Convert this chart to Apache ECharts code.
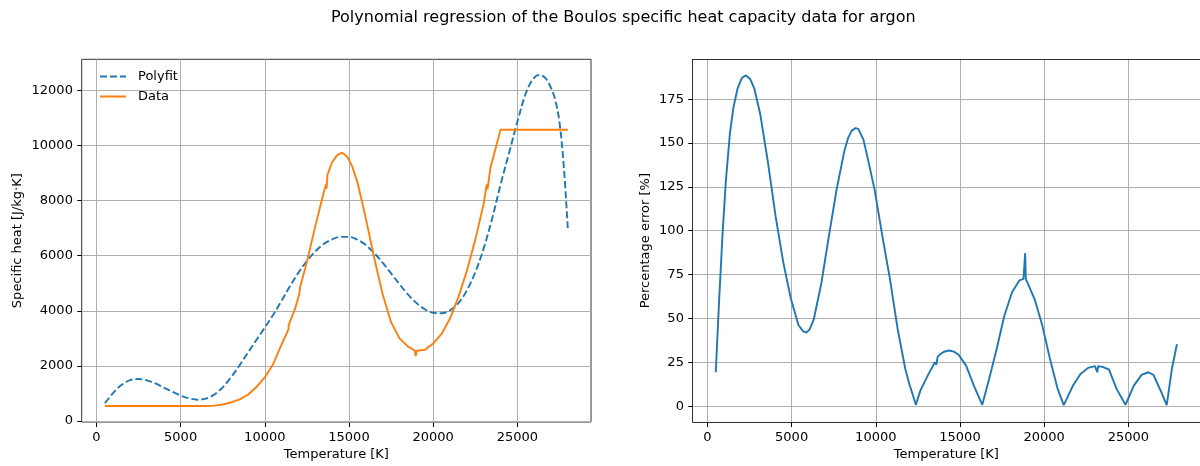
<!DOCTYPE html>
<html>
<head>
<meta charset="utf-8">
<script src="https://cdn.jsdelivr.net/npm/echarts@6/dist/echarts.min.js"></script>
<style>
html,body{margin:0;padding:0;background:#fff;overflow:hidden;}
#chart{width:1200px;height:466px;}
</style>
</head>
<body>
<div id="chart"></div>
<script>
// ---- Data ----
const titleText = 'Polynomial regression of the Boulos specific heat capacity data for argon';
const seriesNames = ['Polyfit', 'Data'];
const xTickLabels = [0, 5000, 10000, 15000, 20000, 25000];
const leftYTicks = [0, 2000, 4000, 6000, 8000, 10000, 12000];
const rightYTicks = [0, 25, 50, 75, 100, 125, 150, 175];

// Polyfit curve (temperature K, specific heat J/kg·K)
const polyT = [500,1000,1500,2000,2500,3000,3500,4000,4500,5000,5500,6000,6500,7000,7500,8000,8500,9000,9500,10000,
  10500,11000,11500,12000,12500,13000,13500,14000,14500,15000,15500,16000,16500,17000,17500,18000,18500,19000,19500,20000,
  20500,21000,21500,22000,22500,23000,23500,24000,24500,25000,25500,25900,26300,26700,27000,27250,27500,27750,28000];
const polyV = [620,1000,1290,1460,1505,1450,1340,1190,1040,900,800,750,790,940,1200,1570,2000,2460,2920,3370,
  3840,4350,4880,5370,5790,6140,6410,6580,6670,6670,6570,6370,6080,5730,5340,4950,4580,4270,4040,3910,
  3890,4000,4260,4720,5380,6250,7330,8560,9700,10850,11880,12380,12556,12420,12080,11650,10850,9300,6950];

// Boulos data (temperature K, specific heat J/kg·K)
const dataT = [500,6000,6500,7000,7500,8000,8500,9000,9500,10000,10500,11000,11400,11430,11800,12060,12090,12500,13000,13500,
  13640,13670,13720,14000,14300,14600,14900,15200,15500,15800,16000,16500,17000,17500,18000,18500,18900,18960,19020,19500,
  20000,20500,21000,21500,22000,22500,23000,23180,23230,23400,23700,24000,28000];
const dataV = [520,520,522,535,575,650,760,930,1210,1560,2050,2760,3300,3480,4060,4620,4830,5760,7060,8280,
  8580,8420,8920,9380,9640,9730,9580,9220,8660,7880,7340,5900,4580,3570,2980,2690,2540,2340,2530,2560,
  2790,3140,3700,4480,5430,6560,7870,8580,8400,9170,9860,10560,10560];

// Percentage error (temperature K, %)
const errT = [500,700,900,1100,1340,1550,1800,2050,2300,2550,2800,3160,3610,4070,4520,4980,5430,5700,5900,6100,
  6340,6800,7250,7700,8160,8400,8610,8840,9000,9070,9300,9520,9977,10430,10890,11340,11800,12020,12250,12430,
  12700,13160,13570,13640,13660,13720,13840,14100,14400,14700,14980,15430,15890,16390,16800,17250,17700,18160,18610,18850,
  18920,18950,18990,19070,19520,19977,20430,20890,21250,21800,22250,22700,23110,23200,23250,23300,23600,23950,24400,24930,
  25430,25890,26300,26600,26800,27100,27390,27700,28000];
const errV = [19,60,97,128,155,170,181,187,188.5,186.5,181,166,139,108,82,61,46,42.5,41.7,43.5,
  49,70,97,123,145,153,157,158.4,158,157.5,152,143,123,97,72,44,21,13,6,0.4,
  8.5,17.5,24.7,25,23.3,27.5,29,30.7,31.4,30.8,29,22.8,11.4,0.4,15.2,32.3,51,64.5,71.5,72.3,
  72.3,87,72,70.6,60.5,45.5,26.6,9.5,0.2,11.4,18,21.5,22.5,22.5,19,22.5,22,20.5,9.5,0.4,
  11.4,17.5,19,17.5,13.3,7,0.2,21,35];

const pairs = (xs, ys) => xs.map((x, i) => [x, ys[i]]);

// ---- Layout ----
const FONT = 'DejaVu Sans';
const FS = 13;
const gridCol = '#b0b0b0';
const frameCol = '#333333';
const blue = '#1f77b4', orange = '#ff7f0e';
const W = 1200;
const boxTop = 59.3, boxH = 363.4, boxW = 509.3;
const leftBoxL = 81.7, rightBoxL = 692.7;
const xMin = -875, xMax = 29375;
const pxPerX = boxW / (xMax - xMin);
const lY = [-60, 13123], rY = [-9.4, 197.7];

function box(boxL) {
  return { left: boxL, right: W - boxL - boxW, top: boxTop, height: boxH };
}
function yTickGrid(boxL, yr, t0, t1) {
  const ppu = boxH / (yr[1] - yr[0]);
  const bottomPx = boxTop + boxH - (t0 - yr[0]) * ppu;
  const topPx = boxTop + boxH - (t1 - yr[0]) * ppu;
  return { left: boxL, right: W - boxL - boxW, top: topPx, height: bottomPx - topPx };
}
function xTickGrid(boxL, t0, t1) {
  const l = boxL + (t0 - xMin) * pxPerX;
  return { left: l, width: (t1 - t0) * pxPerX, top: boxTop, height: boxH };
}
const labelStyle = { fontFamily: FONT, fontSize: FS, color: '#000' };
const hiddenAxis = (gi) => ({ type: 'value', gridIndex: gi, show: false, min: 0, max: 1 });
const plain = v => String(v);
const frameLine = { show: true, onZero: false, lineStyle: { color: frameCol, width: 1 } };

const grids = [
  Object.assign(box(leftBoxL), { show: true, borderColor: frameCol, borderWidth: 1, backgroundColor: 'transparent' }),
  xTickGrid(leftBoxL, xTickLabels[0], xTickLabels[xTickLabels.length - 1]),
  yTickGrid(leftBoxL, lY, leftYTicks[0], leftYTicks[leftYTicks.length - 1]),
  box(rightBoxL),
  xTickGrid(rightBoxL, xTickLabels[0], xTickLabels[xTickLabels.length - 1]),
  yTickGrid(rightBoxL, rY, rightYTicks[0], rightYTicks[rightYTicks.length - 1])
];

function mainX(gi, withLine) {
  return { type: 'value', gridIndex: gi, min: xMin, max: xMax, position: 'bottom',
    axisLine: withLine ? frameLine : { show: false }, axisTick: { show: false }, axisLabel: { show: false }, splitLine: { show: false },
    name: 'Temperature [K]', nameLocation: 'middle', nameGap: 26, nameTextStyle: labelStyle };
}
function topLineX(gi) {
  return { type: 'value', gridIndex: gi, min: xMin, max: xMax, position: 'top',
    axisLine: frameLine, axisTick: { show: false }, axisLabel: { show: false }, splitLine: { show: false } };
}
function mainY(gi, yr, name, gap, withLine) {
  return { type: 'value', gridIndex: gi, min: yr[0], max: yr[1], position: 'left',
    axisLine: withLine ? frameLine : { show: false }, axisTick: { show: false }, axisLabel: { show: false }, splitLine: { show: false },
    name: name, nameLocation: 'middle', nameGap: gap, nameTextStyle: labelStyle };
}
function tickX(gi) {
  const step = xTickLabels[1] - xTickLabels[0];
  return { type: 'value', gridIndex: gi, min: xTickLabels[0], max: xTickLabels[xTickLabels.length - 1], interval: step,
    axisLine: { show: false },
    axisTick: { show: true, length: 4.4, lineStyle: { color: '#000', width: 1 } },
    axisLabel: { show: true, margin: 8.2, ...labelStyle, formatter: plain, showMinLabel: true, showMaxLabel: true },
    splitLine: { show: true, lineStyle: { color: gridCol, width: 1 } } };
}
function tickY(gi, ticks) {
  return { type: 'value', gridIndex: gi, min: ticks[0], max: ticks[ticks.length - 1], interval: ticks[1] - ticks[0],
    axisLine: { show: false },
    axisTick: { show: true, length: 4.4, lineStyle: { color: '#000', width: 1 } },
    axisLabel: { show: true, margin: 8.8, ...labelStyle, formatter: plain, showMinLabel: true, showMaxLabel: true },
    splitLine: { show: true, lineStyle: { color: gridCol, width: 1 } } };
}

const option = {
  animation: false,
  backgroundColor: '#fff',
  textStyle: { fontFamily: FONT },
  title: { text: titleText, left: 326, top: 5, textStyle: { fontFamily: FONT, fontSize: 16, fontWeight: 'normal', color: '#000' } },
  legend: {
    data: seriesNames, orient: 'vertical', left: 94, top: 65,
    itemWidth: 26, itemHeight: 12, itemGap: 7,
    itemStyle: { opacity: 0 },
    textStyle: { fontFamily: FONT, fontSize: FS, color: '#000', lineHeight: 12, padding: [0, 0, 0, 7] }
  },
  grid: grids,
  xAxis: [mainX(0, false), tickX(1), hiddenAxis(2), mainX(3, true), tickX(4), hiddenAxis(5), topLineX(3)],
  yAxis: [mainY(0, lY, 'Specific heat [J/kg·K]', 58, false), hiddenAxis(1), tickY(2, leftYTicks),
          mainY(3, rY, 'Percentage error [%]', 41, true), hiddenAxis(4), tickY(5, rightYTicks)],
  series: [
    { name: seriesNames[0], type: 'line', xAxisIndex: 0, yAxisIndex: 0, data: pairs(polyT, polyV),
      showSymbol: false, symbol: 'none', smooth: 0.35, color: blue,
      lineStyle: { color: blue, width: 1.9, type: [7, 3] }, z: 4 },
    { name: seriesNames[1], type: 'line', xAxisIndex: 0, yAxisIndex: 0, data: pairs(dataT, dataV),
      showSymbol: false, symbol: 'none', smooth: false, color: orange,
      lineStyle: { color: orange, width: 1.9 }, z: 5 },
    { name: 'Percentage error', type: 'line', xAxisIndex: 3, yAxisIndex: 3, data: pairs(errT, errV),
      showSymbol: false, symbol: 'none', smooth: false, color: blue,
      lineStyle: { color: blue, width: 1.9 }, z: 4 }
  ]
};

const chart = echarts.init(document.getElementById('chart'), null, { renderer: 'canvas' });
chart.setOption(option);
</script>
</body>
</html>
